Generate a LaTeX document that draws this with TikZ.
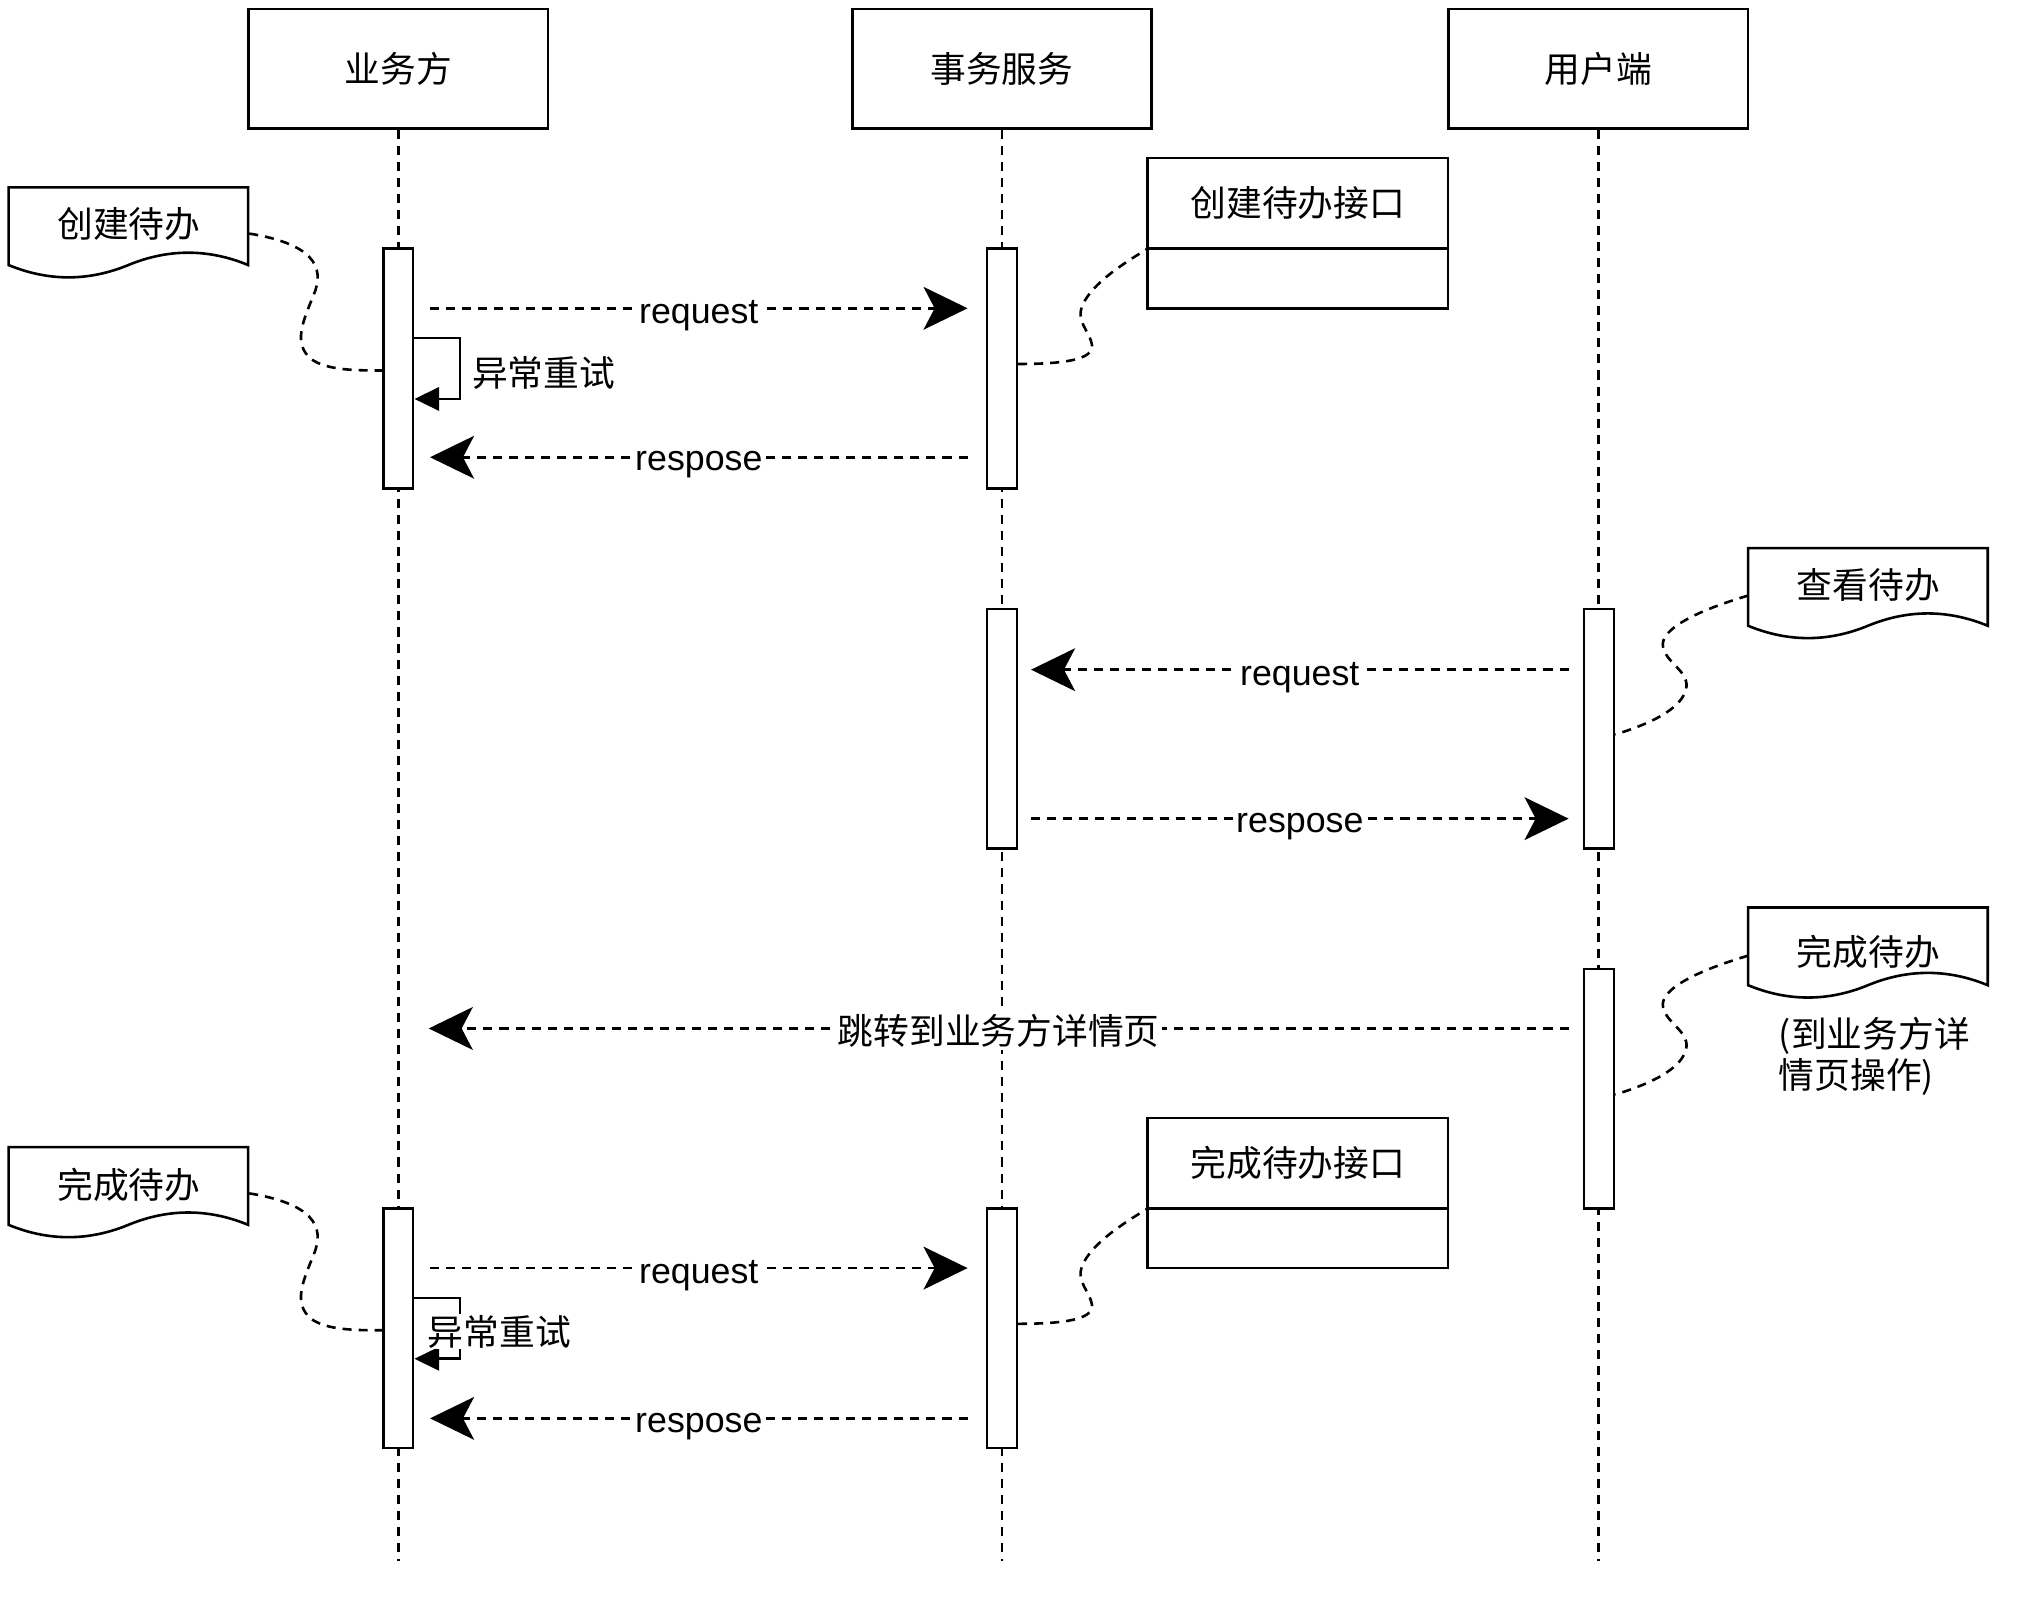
\documentclass[tikz,border=0pt]{standalone}
\usepackage{fontspec}
\setmainfont{Liberation Sans}
\newfontfamily\cjk{Noto Sans CJK SC}
\usetikzlibrary{arrows.meta,calc}
\begin{document}
\begin{tikzpicture}[x=0.5pt,y=-0.5pt,
  every node/.style={font=\fontsize{13.8}{16}\selectfont},
  lifebox/.style={draw,line width=1pt,minimum width=115.5pt,minimum height=46pt,inner sep=0pt,font=\cjk\fontsize{13.8}{16}\selectfont},
  act/.style={draw,fill=white,line width=1pt,minimum width=11.5pt,minimum height=92.5pt,inner sep=0pt},
  notebox/.style={minimum width=92.5pt,minimum height=35.3pt,inner sep=0pt},
  notetext/.style={inner sep=0pt,font=\cjk\fontsize{13.8}{16}\selectfont},
  docline/.style={line width=1pt},
  ifbox/.style={draw,line width=1pt,minimum width=116pt,inner sep=0pt,outer sep=0pt,font=\cjk\fontsize{13.8}{16}\selectfont},
  dsh/.style={line width=1pt,dash pattern=on 3.5pt off 2.7pt},
  msg/.style={dsh,-{Stealth[length=17pt,width=16.5pt,inset=4.3pt]}},
  lbl/.style={fill=white,inner sep=1pt,yshift=-3pt},
  cjklbl/.style={fill=white,inner sep=1pt,yshift=-1pt,font=\cjk\fontsize{13.8}{16}\selectfont},
  loop/.style={line width=1pt,-{Triangle[length=9.5pt,width=9pt]}},
  lifeline/.style={dsh}
]
\fill[white] (0,0) rectangle (1568,1244);
\useasboundingbox (0,0) rectangle (1568,1244);

% headers
\node[lifebox] (A) at (307.5,53) {业务方};
\node[lifebox] (B) at (773.5,53) {事务服务};
\node[lifebox] (C) at (1234,53) {用户端};
\coordinate (Aend) at (307.5,1205);
\coordinate (Bend) at (773.5,1205);
\coordinate (Cend) at (1234,1205);
\draw[lifeline] (A) -- (Aend);
\draw[lifeline] (B) -- (Bend);
\draw[lifeline] (C) -- (Cend);

% activations
\node[act] (A1) at (307.5,284.5) {};
\node[act] (B1) at (773.5,284.5) {};
\node[act] (B2) at (773.5,562.5) {};
\node[act] (C1) at (1234.5,562.5) {};
\node[act] (C2) at (1234.5,840.5) {};
\node[act] (A2) at (307.5,1025.5) {};
\node[act] (B3) at (773.5,1025.5) {};

% interface boxes
\node[ifbox,minimum height=35pt] (k1) at (1002,157) {创建待办接口};
\node[ifbox,minimum height=23pt,anchor=north] (k1b) at (k1.south) {};
\node[ifbox,minimum height=35pt] (k2) at (1002,898) {完成待办接口};
\node[ifbox,minimum height=23pt,anchor=north] (k2b) at (k2.south) {};

% notes
\node[notebox] (n1) at (99.5,180.3) {};
\node[notebox] (n2) at (99.5,921.3) {};
\node[notebox] (n3) at (1442.5,458.8) {};
\node[notebox] (n4) at (1442.5,736.3) {};
\foreach \n in {n1,n2,n3,n4}{
  \begin{scope}[shift={(\n.north west)}]
    \draw[docline] (0,0) -- (185,0) -- (185,60)
      .. controls (154.2,47.3) and (123.3,47.3) .. (92.5,60)
      .. controls (61.7,72.7) and (30.8,72.7) .. (0,60) -- cycle;
  \end{scope}
}
\node[notetext] (t1) at (99.5,173) {创建待办};
\node[notetext] (t2) at (99.5,915) {完成待办};
\node[notetext] (t3) at (1442.5,451.5) {查看待办};
\node[notetext] (t4) at (1442.5,734.5) {完成待办};
\node[notetext,anchor=west,align=left,font=\cjk\fontsize{13.8}{15.5}\selectfont] (t5) at (1373,815.5) {(到业务方详\\情页操作)};

% note links
\draw[dsh] (n1.east) .. controls (240,188) and (252,205) .. (242,228)
  .. controls (234,248) and (226,265) .. (240,277)
  .. controls (252,286) and (275,286) .. ($(A1.west)+(0,1.5)$);
\begin{scope}[shift={(0,741)}]
\draw[dsh] (n2.east) .. controls (240,188) and (252,205) .. (242,228)
  .. controls (234,248) and (226,265) .. (240,277)
  .. controls (252,286) and (275,286) .. ($(A2.west)+(0,1.5)$);
\end{scope}
\draw[dsh] ($(B1.east)+(0,-3.5)$) .. controls (820,281) and (845,278) .. (843,266)
  .. controls (841,255) and (830,248) .. (836,235)
  .. controls (844,218) and (868,203) .. (k1.south west);
\begin{scope}[shift={(0,741)}]
\draw[dsh] ($(B3.east)+(0,-3.5)$) .. controls (820,281) and (845,278) .. (843,266)
  .. controls (841,255) and (830,248) .. (836,235)
  .. controls (844,218) and (868,203) .. (k2.south west);
\end{scope}
\draw[dsh] ($(n3.west)+(0,1)$) .. controls (1315,470) and (1280,485) .. (1284,500)
  .. controls (1287,512) and (1303,518) .. (1302,530)
  .. controls (1300,548) and (1270,560) .. ($(C1.east)+(0,4.5)$);
\begin{scope}[shift={(0,278)}]
\draw[dsh] ($(n4.west)+(0,1.5)$) .. controls (1315,470) and (1280,485) .. (1284,500)
  .. controls (1287,512) and (1303,518) .. (1302,530)
  .. controls (1300,548) and (1270,560) .. ($(C2.east)+(0,4.5)$);
\end{scope}

% messages
\draw[msg] ($(A1.east)+(12,-46.5)$) -- node[lbl]{request} ($(B1.west)+(-14,-46.5)$);
\draw[msg] ($(B1.west)+(-14,68.5)$) -- node[lbl]{respose} ($(A1.east)+(12,68.5)$);
\draw[msg] ($(C1.west)+(-11,-45.5)$) -- node[lbl]{request} ($(B2.east)+(10,-45.5)$);
\draw[msg] ($(B2.east)+(10,69.5)$) -- node[lbl]{respose} ($(C1.west)+(-11,69.5)$);
\coordinate (jumpEnd) at (331,794);
\draw[msg] ($(C2.west)+(-11,-46.5)$) -- node[cjklbl]{跳转到业务方详情页} (jumpEnd);
\draw[msg] ($(A2.east)+(12,-46.5)$) -- node[lbl]{request} ($(B3.west)+(-14,-46.5)$);
\draw[msg] ($(B3.west)+(-14,69.5)$) -- node[lbl]{respose} ($(A2.east)+(12,69.5)$);

% self loops
\draw[loop] ($(A1.east)+(0,-23.5)$) -- ++(35,0) -- ++(0,47) -- ($(A1.east)+(0,23.5)$);
\node[notetext,anchor=west] (r1) at ($(A1.east)+(44,3.5)$) {异常重试};
\draw[loop] ($(A2.east)+(0,-23.5)$) -- ++(35,0) -- ++(0,47) -- ($(A2.east)+(0,23.5)$);
\node[notetext,anchor=west,fill=white,inner sep=0.5pt] (r2) at ($(A2.east)+(9,2.5)$) {异常重试};
\end{tikzpicture}
\end{document}
